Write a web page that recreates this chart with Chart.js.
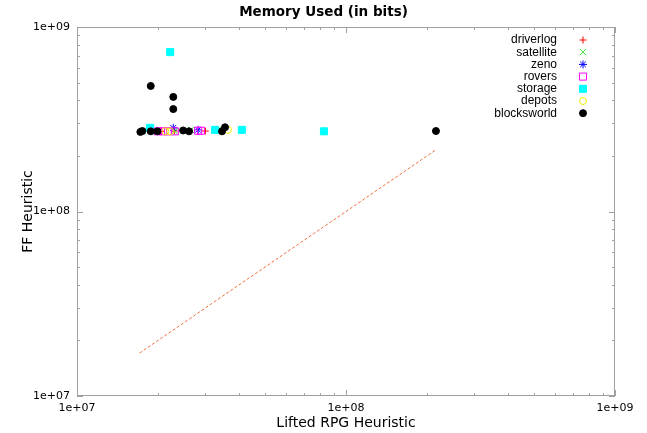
<!DOCTYPE html>
<html>
<head>
<meta charset="utf-8">
<script src="https://cdn.jsdelivr.net/npm/chart.js@4.4.0/dist/chart.umd.min.js"></script>
<style>
  html, body { margin: 0; padding: 0; background: #fff; }
</style>
</head>
<body>
<canvas id="memory" width="647" height="433"></canvas>
<script>
// values (x = Lifted RPG, y = FF), in bits
var driverlog   = [[2.05e7, 2.72e8], [2.30e7, 2.73e8], [3.00e7, 2.73e8]];
var satellite   = [[1.75e7, 2.73e8], [2.31e7, 2.72e8], [2.65e7, 2.77e8], [3.34e7, 2.77e8]];
var zeno        = [[2.28e7, 2.84e8], [2.82e7, 2.77e8]];
var rovers      = [[2.00e7, 2.72e8], [2.09e7, 2.72e8], [2.18e7, 2.72e8], [2.31e7, 2.72e8], [2.82e7, 2.74e8], [2.89e7, 2.74e8]];
var storage     = [[1.87e7, 2.84e8], [2.22e7, 7.31e8], [3.26e7, 2.77e8], [4.10e7, 2.77e8], [8.28e7, 2.72e8]];
var depots      = [[2.13e7, 2.72e8], [2.22e7, 2.72e8], [3.64e7, 2.77e8]];
var blocksworld = [[1.72e7, 2.70e8], [1.75e7, 2.73e8], [1.88e7, 4.79e8], [1.88e7, 2.72e8], [1.99e7, 2.72e8],
                   [2.28e7, 4.18e8], [2.28e7, 3.59e8], [2.48e7, 2.75e8], [2.61e7, 2.72e8], [3.46e7, 2.72e8],
                   [3.55e7, 2.86e8], [2.16e8, 2.73e8]];
var diagonal    = [[1.71e7, 1.71e7], [2.16e8, 2.16e8]];

var tickValues = [1e7, 1e8, 1e9];
var tickLabels = ['1e+07', '1e+08', '1e+09'];
var chartTitle = 'Memory Used (in bits)';

function pts(arr) {
  return arr.map(function (p) { return { x: p[0], y: p[1] }; });
}

// style per series: [pointStyle, colour, filled, radius]
var styles = {
  driverlog:   ['cross',    '#ff0000', false, 3.5],
  satellite:   ['crossRot', '#33dd33', false, 4.5],
  zeno:        ['star',     '#0000ff', false, 4],
  rovers:      ['rect',     '#ff00ff', false, 5],
  storage:     ['rect',     '#00ffff', true,  5],
  depots:      ['circle',   '#eeee00', false, 3.5],
  blocksworld: ['circle',   '#000000', true,  3.5]
};
var series = { driverlog: driverlog, satellite: satellite, zeno: zeno, rovers: rovers,
               storage: storage, depots: depots, blocksworld: blocksworld };
var names = Object.keys(series);

var datasets = names.map(function (name, i) {
  var s = styles[name];
  return {
    label: name,
    data: pts(series[name]),
    pointStyle: s[0],
    radius: s[3],
    hoverRadius: s[3],
    borderColor: s[1],
    backgroundColor: s[2] ? s[1] : 'rgba(0,0,0,0)',
    borderWidth: 1,
    order: names.length - i
  };
});
datasets.push({
  label: 'y=x',
  data: pts(diagonal),
  showLine: true,
  radius: 0,
  borderColor: '#f07040',
  borderWidth: 1,
  borderDash: [3, 2],
  order: 20
});

// border + inward ticks on all four sides, like gnuplot
var frame = {
  id: 'frame',
  beforeDatasetsDraw: function (chart) {
    var ctx = chart.ctx, a = chart.chartArea, xs = chart.scales.x, ys = chart.scales.y;
    ctx.save();
    ctx.strokeStyle = '#a0a0a0';
    ctx.lineWidth = 1;
    ctx.strokeRect(a.left + 0.5, a.top + 0.5, a.right - a.left - 1, a.bottom - a.top - 1);
    ctx.beginPath();
    [1e7, 1e8].forEach(function (d) {
      for (var m = 1; m <= 10; m++) {
        var v = m * d, len = (m === 1 || m === 10) ? 6 : 3;
        var px = Math.round(xs.getPixelForValue(v)) + 0.5;
        var py = Math.round(ys.getPixelForValue(v)) + 0.5;
        ctx.moveTo(px, a.bottom); ctx.lineTo(px, a.bottom - len);
        ctx.moveTo(px, a.top);    ctx.lineTo(px, a.top + len);
        ctx.moveTo(a.left, py);   ctx.lineTo(a.left + len, py);
        ctx.moveTo(a.right, py);  ctx.lineTo(a.right - len, py);
      }
    });
    ctx.stroke();
    ctx.restore();
  }
};

function marker(ctx, style, x, y, r, color, filled) {
  ctx.strokeStyle = color;
  ctx.fillStyle = color;
  ctx.lineWidth = 1;
  ctx.beginPath();
  if (style === 'circle') {
    ctx.arc(x, y, r, 0, Math.PI * 2);
  } else if (style === 'rect') {
    var h = r * Math.SQRT1_2;
    ctx.rect(x - h, y - h, 2 * h, 2 * h);
  } else {
    var d = r * Math.SQRT1_2;
    if (style === 'cross' || style === 'star') {
      ctx.moveTo(x - r, y); ctx.lineTo(x + r, y);
      ctx.moveTo(x, y - r); ctx.lineTo(x, y + r);
    }
    if (style === 'crossRot' || style === 'star') {
      ctx.moveTo(x - d, y - d); ctx.lineTo(x + d, y + d);
      ctx.moveTo(x - d, y + d); ctx.lineTo(x + d, y - d);
    }
  }
  if (filled) ctx.fill();
  ctx.stroke();
}

// title centred on the whole canvas, key at the top right (name then marker)
var key = {
  id: 'key',
  afterDatasetsDraw: function (chart) {
    var ctx = chart.ctx;
    ctx.save();
    ctx.fillStyle = '#000';
    ctx.textAlign = 'center';
    ctx.textBaseline = 'middle';
    ctx.font = 'bold 13.5px "DejaVu Sans", sans-serif';
    ctx.fillText(chartTitle, chart.width / 2, 12);

    ctx.font = '12px "Liberation Sans", Arial, sans-serif';
    ctx.textAlign = 'right';
    names.forEach(function (name, i) {
      var y = 40 + i * 12.2, s = styles[name];
      ctx.fillStyle = '#000';
      ctx.fillText(name, 557, y);
      marker(ctx, s[0], 583, y, s[3], s[1], s[2]);
    });
    ctx.restore();
  }
};

new Chart(document.getElementById('memory'), {
  type: 'scatter',
  data: { datasets: datasets },
  plugins: [frame, key],
  options: {
    responsive: false,
    animation: false,
    devicePixelRatio: 1,
    layout: { padding: { left: 20, right: 32, top: 27, bottom: 0 } },
    plugins: {
      legend: { display: false },
      tooltip: { enabled: false },
      title: { display: false }
    },
    scales: {
      x: {
        type: 'logarithmic',
        min: 1e7, max: 1e9,
        grid: { display: false, drawTicks: false, tickLength: 0 },
        border: { display: false },
        afterBuildTicks: function (s) { s.ticks = tickValues.map(function (v) { return { value: v }; }); },
        afterFit: function (s) { s.height = 37; },
        ticks: {
          padding: 6,
          color: '#000',
          font: { family: 'DejaVu Sans', size: 11 },
          maxRotation: 0,
          callback: function (v) { return tickLabels[tickValues.indexOf(v)]; }
        },
        title: {
          display: true,
          text: 'Lifted RPG Heuristic',
          color: '#000',
          font: { family: 'DejaVu Sans', size: 14 },
          padding: { top: 0, bottom: 1 }
        }
      },
      y: {
        type: 'logarithmic',
        min: 1e7, max: 1e9,
        grid: { display: false, drawTicks: false, tickLength: 0 },
        border: { display: false },
        afterBuildTicks: function (s) { s.ticks = tickValues.map(function (v) { return { value: v }; }); },
        afterFit: function (s) { s.width = 57; },
        ticks: {
          padding: 7,
          color: '#000',
          font: { family: 'DejaVu Sans', size: 11 },
          callback: function (v) { return tickLabels[tickValues.indexOf(v)]; }
        },
        title: {
          display: true,
          text: 'FF Heuristic',
          color: '#000',
          font: { family: 'DejaVu Sans', size: 14 },
          padding: { top: 0, bottom: 0 }
        }
      }
    }
  }
});
</script>
</body>
</html>
